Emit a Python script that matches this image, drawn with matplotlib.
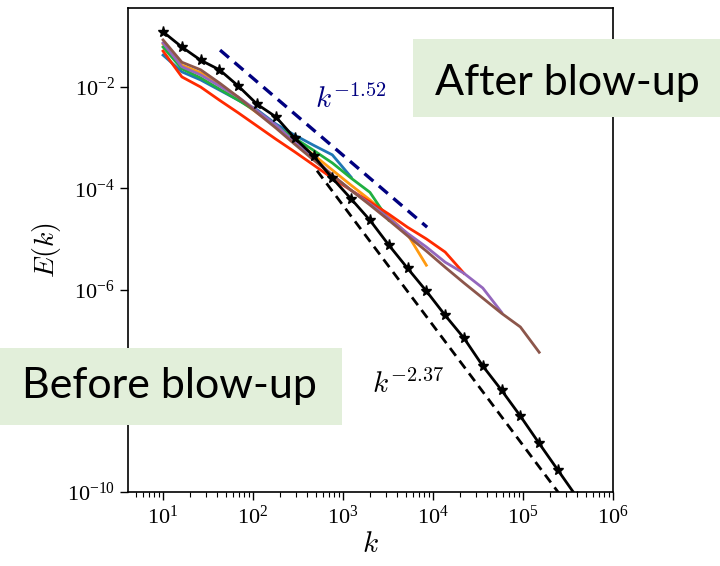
import numpy as np
import matplotlib.pyplot as plt
from matplotlib.patches import Rectangle
from matplotlib.ticker import FixedLocator, FuncFormatter, NullLocator, LogLocator

plt.rcParams['mathtext.fontset'] = 'cm'

# shell wavenumbers (golden-ratio spaced shells)
k_shell = [10, 16.18, 26.18, 42.36, 68.54, 110.9, 179.4, 290.3, 469.8, 760.2,
           1230, 1990, 3220, 5210, 8430, 13640, 22070, 35710, 57780, 93490,
           151270, 244760, 396030]

# log10 E(k) before blow-up (black, starred)
logE_before = [-0.91, -1.21, -1.47, -1.66, -1.98, -2.34, -2.59, -3.01, -3.36, -3.80,
               -4.21, -4.63, -5.12, -5.58, -6.03, -6.51, -6.96, -7.51, -7.99, -8.50,
               -9.04, -9.57, -10.10]

# log10 E(k) after blow-up, one list per snapshot
logE_after = [
    [-1.37, -1.70, -1.86, -2.06, -2.26, -2.45, -2.73, -2.95, -3.15, -3.34, -3.78],
    [-1.15, -1.57, -1.72, -1.96, -2.24, -2.51, -2.77, -3.05, -3.34, -3.64, -3.94,
     -4.23, -4.55, -4.91, -5.52],
    [-1.21, -1.64, -1.82, -2.04, -2.26, -2.49, -2.77, -3.01, -3.25, -3.50, -3.80,
     -4.08, -4.63],
    [-1.29, -1.80, -2.00, -2.26, -2.51, -2.77, -3.03, -3.28, -3.54, -3.80, -4.04,
     -4.27, -4.51, -4.77, -5.00, -5.26, -5.68],
    [-1.13, -1.60, -1.76, -1.98, -2.20, -2.47, -2.75, -3.09, -3.40, -3.74, -4.04,
     -4.31, -4.59, -4.89, -5.16, -5.46, -5.68, -5.97, -6.45],
    [-1.07, -1.51, -1.66, -1.92, -2.20, -2.51, -2.81, -3.13, -3.44, -3.74, -4.04,
     -4.33, -4.63, -4.94, -5.24, -5.56, -5.87, -6.17, -6.47, -6.74, -7.24],
]
after_colors = ['#1f77b4', '#ff9a10', '#20b040', '#ff2a00', '#9467bd', '#8c564b']

# fitted power laws
slope_after, logC_after, k_after = -1.52, 1.212, [43, 8600]
slope_before, logC_before, k_before = -2.37, 2.772, [514, 4e5]

fig = plt.figure(figsize=(7.2, 5.66), dpi=100)
ax = fig.add_axes([0.1778, 0.1307, 0.6736, 0.8551])

k = np.array(k_shell)
for vals, c in zip(logE_after, after_colors):
    ax.plot(k[:len(vals)], 10 ** np.array(vals), color=c, lw=2)

ax.plot(k, 10 ** np.array(logE_before), color='black', lw=2,
        marker='*', markersize=8)

kf = np.array(k_after)
ax.plot(kf, 10 ** logC_after * kf ** slope_after, color='#000080', lw=2.4,
        dashes=(3.5, 2.2))
kf = np.array(k_before)
ax.plot(kf, 10 ** logC_before * kf ** slope_before, color='black', lw=2,
        dashes=(3.5, 2.2))

ax.text(490, 10 ** -2.42, r'$k^{-1.52}$', color='#000080', fontsize=21)
ax.text(2090, 10 ** -8.05, r'$k^{-2.37}$', color='black', fontsize=21)

ax.set_xscale('log')
ax.set_yscale('log')
ax.set_xlim(4.08, 1e6)
ax.set_ylim(1e-10, 10 ** -0.44)


def pow_label(v, _):
    e = round(np.log10(v))
    if e == -8:  # sits under the "Before blow-up" box
        return ''
    return r'$\mathregular{10^{%d}}$' % e


fmt = FuncFormatter(pow_label)
ax.xaxis.set_major_locator(FixedLocator([1e1, 1e2, 1e3, 1e4, 1e5, 1e6]))
ax.xaxis.set_minor_locator(LogLocator(base=10, subs=np.arange(2, 10)))
ax.xaxis.set_major_formatter(fmt)
ax.yaxis.set_major_locator(FixedLocator([1e-10, 1e-8, 1e-6, 1e-4, 1e-2]))
ax.yaxis.set_minor_locator(NullLocator())
ax.yaxis.set_major_formatter(fmt)
ax.tick_params(which='major', direction='out', length=6, width=1, labelsize=16)
ax.tick_params(which='minor', direction='out', length=3.5, width=0.8)
for lab in ax.get_xticklabels() + ax.get_yticklabels():
    lab.set_family('Liberation Serif')
for s in ax.spines.values():
    s.set_linewidth(1.2)

ax.set_xlabel(r'$k$', fontsize=21, labelpad=1)
ax.set_ylabel(r'$E(k)$', fontsize=20, labelpad=3)

# labels on shaded boxes, drawn above the axes
fig.add_artist(Rectangle((0.5736, 0.7933), 0.4264, 0.1378, transform=fig.transFigure,
                         facecolor='#e2efda', edgecolor='none', zorder=10))
fig.text(0.788, 0.832, 'After blow-up', fontsize=31, family='Lato',
         ha='center', va='baseline', zorder=11)
fig.add_artist(Rectangle((0.0, 0.2491), 0.475, 0.136, transform=fig.transFigure,
                         facecolor='#e2efda', edgecolor='none', zorder=10))
fig.text(0.2354, 0.2968, 'Before blow-up', fontsize=31, family='Lato',
         ha='center', va='baseline', zorder=11)

fig.savefig('out.png', dpi=100)
